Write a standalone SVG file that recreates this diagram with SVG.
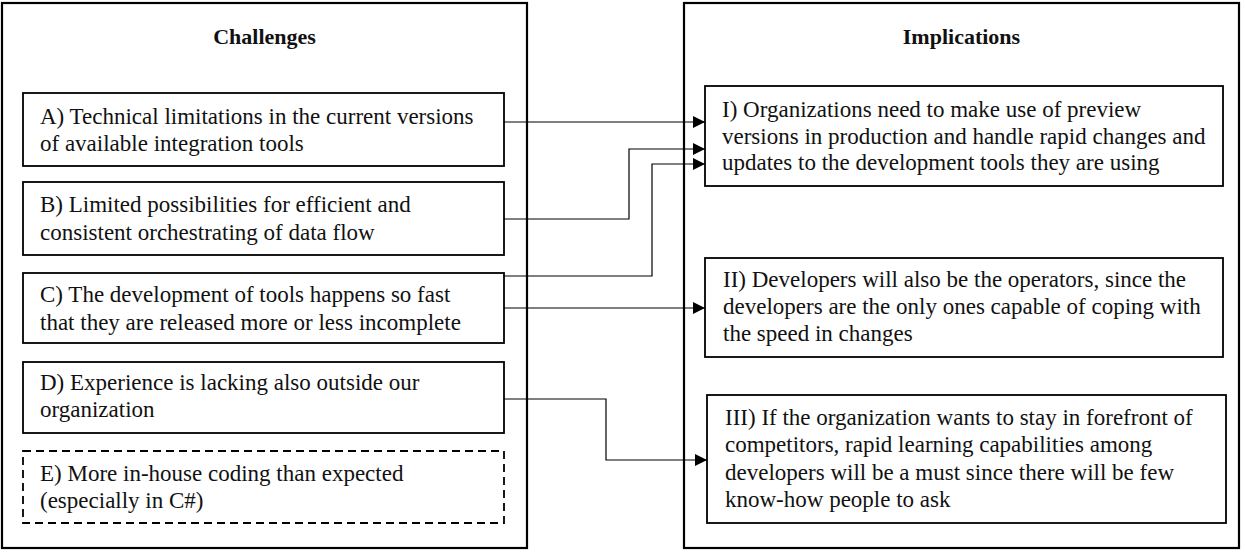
<svg xmlns="http://www.w3.org/2000/svg" width="1245" height="552" viewBox="0 0 1245 552">
<defs>
<style>
.outer{fill:#fff;stroke:#000;stroke-width:2.2}
.box{fill:#fff;stroke:#000;stroke-width:1.8}
.dash{fill:#fff;stroke:#000;stroke-width:1.8;stroke-dasharray:8 5}
.t{font-family:'Liberation Serif','Times New Roman','DejaVu Serif',serif;font-size:23px;fill:#111}
.h{font-family:'Liberation Serif','Times New Roman','DejaVu Serif',serif;font-size:22px;font-weight:bold;fill:#111;text-anchor:middle}
.c{fill:none;stroke:#000;stroke-width:1.2;marker-end:url(#arr)}
</style>
<marker id="arr" markerUnits="userSpaceOnUse" markerWidth="13" markerHeight="12" refX="12" refY="6" orient="auto">
<path d="M0,0 L12,6 L0,12 z" fill="#000"/>
</marker>
</defs>
<rect width="1245" height="552" fill="#fff"/>
<g id="challenges">
<rect class="outer" x="2" y="3" width="525" height="545"/>
<text class="h" x="264.5" y="44">Challenges</text>
</g>
<g id="implications">
<rect class="outer" x="684" y="3" width="555" height="545"/>
<text class="h" x="961.5" y="44">Implications</text>
</g>
<g id="nodeA">
<rect class="box" x="23" y="93" width="481" height="73"/>
<text class="t" x="40" y="124">A) Technical  limitations in the current versions</text>
<text class="t" x="40" y="151">of available integration tools</text>
</g>
<g id="nodeB">
<rect class="box" x="23" y="182" width="481" height="73"/>
<text class="t" x="40" y="212">B) Limited possibilities for efficient and</text>
<text class="t" x="40" y="240">consistent orchestrating of data flow</text>
</g>
<g id="nodeC">
<rect class="box" x="23" y="273" width="481" height="70"/>
<text class="t" x="40" y="302">C) The development of tools happens so fast</text>
<text class="t" x="40" y="330">that they are released more or less incomplete</text>
</g>
<g id="nodeD">
<rect class="box" x="23" y="362" width="481" height="71"/>
<text class="t" x="40" y="390">D) Experience is lacking also outside our</text>
<text class="t" x="40" y="417">organization</text>
</g>
<g id="nodeE">
<rect class="dash" x="23" y="451" width="481" height="72"/>
<text class="t" x="40" y="481">E) More in-house coding than expected</text>
<text class="t" x="40" y="508">(especially in C#)</text>
</g>
<g id="nodeI">
<rect class="box" x="705" y="86" width="518" height="100"/>
<text class="t" x="722" y="117">I) Organizations need to make use of preview</text>
<text class="t" x="722" y="144">versions in production and handle rapid changes and</text>
<text class="t" x="722" y="170">updates to the development tools they are using</text>
</g>
<g id="nodeII">
<rect class="box" x="705" y="258" width="518" height="99"/>
<text class="t" x="723" y="287">II) Developers will also be the operators, since the</text>
<text class="t" x="723" y="314">developers are the only ones capable of coping with</text>
<text class="t" x="723" y="341">the speed in changes</text>
</g>
<g id="nodeIII">
<rect class="box" x="707" y="395" width="519" height="128"/>
<text class="t" x="725" y="425">III) If the organization wants to stay in forefront of</text>
<text class="t" x="725" y="452">competitors, rapid learning capabilities among</text>
<text class="t" x="725" y="480">developers will be a must since there will be few</text>
<text class="t" x="725" y="507">know-how people to ask</text>
</g>
<g id="connectors">
<path class="c" d="M504,122 H705"/>
<path class="c" d="M504,219 H629 V149 H705"/>
<path class="c" d="M504,276 H652 V164 H705"/>
<path class="c" d="M504,308 H705"/>
<path class="c" d="M504,399 H606 V460 H707"/>
</g>
</svg>
